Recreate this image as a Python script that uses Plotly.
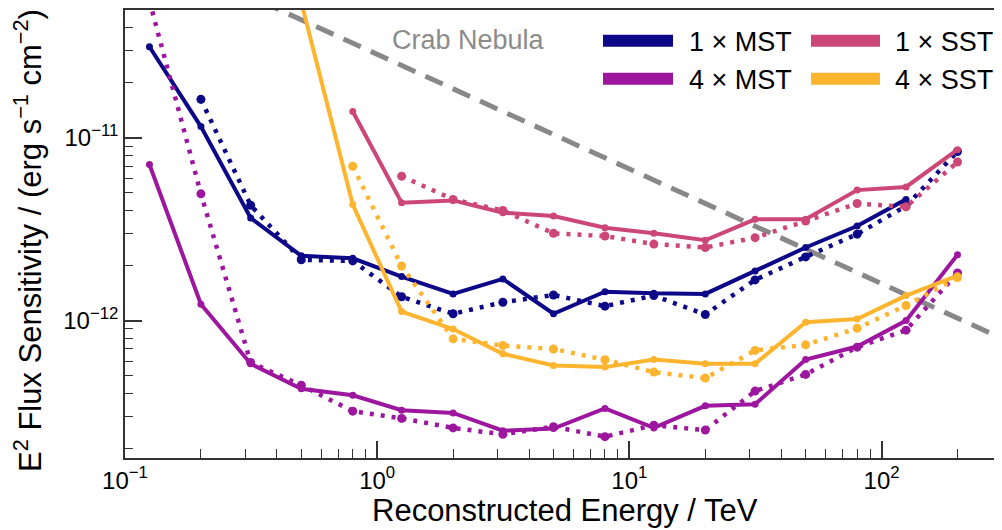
import plotly.graph_objects as go

# ---------------- data ----------------
energy = [0.125, 0.2, 0.315, 0.5, 0.8, 1.25, 2.0, 3.15, 5.0, 8.0, 12.5, 20.0,
          31.5, 50.0, 80.0, 125.0, 200.0]

mst1_solid = [3.14e-11, 1.15e-11, 3.64e-12, 2.26e-12, 2.19e-12, 1.74e-12, 1.40e-12,
              1.69e-12, 1.09e-12, 1.44e-12, 1.41e-12, 1.40e-12, 1.87e-12, 2.51e-12,
              3.29e-12, 4.60e-12, None]
mst1_dotted = [None, 1.62e-11, 4.27e-12, 2.15e-12, 2.12e-12, 1.35e-12, 1.09e-12,
               1.26e-12, 1.38e-12, 1.20e-12, 1.37e-12, 1.08e-12, 1.67e-12, 2.23e-12,
               2.97e-12, 4.23e-12, 8.4e-12]

mst4_solid = [7.13e-12, 1.23e-12, 5.81e-13, 4.24e-13, 3.91e-13, 3.24e-13, 3.13e-13,
              2.50e-13, 2.57e-13, 3.31e-13, 2.59e-13, 3.42e-13, 3.49e-13, 6.13e-13,
              7.22e-13, 1.00e-12, 2.29e-12]
mst4_dotted = [5.6e-11, 4.93e-12, 5.90e-13, 4.43e-13, 3.20e-13, 2.92e-13, 2.59e-13,
               2.39e-13, 2.63e-13, 2.32e-13, 2.68e-13, 2.52e-13, 4.12e-13, 5.08e-13,
               7.16e-13, 8.87e-13, 1.82e-12]

sst1_solid = [None, None, None, None, 1.39e-11, 4.41e-12, 4.54e-12, 3.89e-12,
              3.73e-12, 3.22e-12, 3.00e-12, 2.75e-12, 3.58e-12, 3.58e-12, 5.17e-12,
              5.38e-12, 8.6e-12]
sst1_dotted = [None, None, None, None, None, 6.16e-12, 4.60e-12, 4.00e-12, 3.00e-12,
               2.90e-12, 2.62e-12, 2.51e-12, 2.84e-12, 3.50e-12, 4.37e-12, 4.19e-12,
               7.36e-12]

sst4_solid = [None, None, None, 5.5e-11, 4.31e-12, 1.12e-12, 9.00e-13, 6.59e-13,
              5.69e-13, 5.57e-13, 6.13e-13, 5.81e-13, 5.81e-13, 9.79e-13, 1.02e-12,
              1.37e-12, 1.76e-12]
sst4_dotted = [None, None, None, None, 6.98e-12, 1.99e-12, 7.95e-13, 7.31e-13,
               7.00e-13, 6.11e-13, 5.23e-13, 4.85e-13, 6.87e-13, 7.37e-13, 9.08e-13,
               1.21e-12, 1.72e-12]

crab_energy = [0.1, 300.0]
crab_flux = [1.21e-10, 8.0e-13]

series_names = ["1 × MST", "4 × MST", "1 × SST", "4 × SST"]
series_colors = ["#0d0887", "#9c179e", "#cc4778", "#fdb42f"]
solid_data = [mst1_solid, mst4_solid, sst1_solid, sst4_solid]
dotted_data = [mst1_dotted, mst4_dotted, sst1_dotted, sst4_dotted]

x_tickvals = [0.1, 1, 10, 100]
x_ticktext = ["10<sup>−1</sup>", "10<sup>0</sup>", "10<sup>1</sup>", "10<sup>2</sup>"]
y_tickvals = [1e-12, 1e-11]
y_ticktext = ["10<sup>−12</sup>", "10<sup>−11</sup>"]

# ---------------- figure ----------------
# The page has the browser's default 8px body margin, so the figure is
# sized to fill the rest of the 1002x530 window exactly.
FONT = "Liberation Sans, Arial, Helvetica, sans-serif"
OFF = 8
W, H = 1002 - OFF, 530 - OFF
L, R, T, B = 125 - OFF, 0, 0, 72
PW, PH = W - L - R, H - T - B


def px(xp):
    """page x pixel -> paper x"""
    return (xp - OFF - L) / PW


def py(yp):
    """page y pixel -> paper y"""
    return (H - B - (yp - OFF)) / PH


fig = go.Figure()

fig.add_trace(go.Scatter(x=crab_energy, y=crab_flux, mode="lines",
                         line=dict(color="#888888", width=5, dash="19px,11px"),
                         showlegend=False, hoverinfo="skip"))

for name, col, sd, dd in zip(series_names, series_colors, solid_data, dotted_data):
    fig.add_trace(go.Scatter(x=energy, y=dd, mode="lines+markers", name=name + " dotted",
                             line=dict(color=col, width=4.5, dash="4px,7px"),
                             marker=dict(color=col, size=9),
                             showlegend=False))
    fig.add_trace(go.Scatter(x=energy, y=sd, mode="lines+markers", name=name,
                             line=dict(color=col, width=4),
                             marker=dict(color=col, size=7),
                             showlegend=False))

minor_x = [m * 10.0 ** e for e in range(-1, 3) for m in range(2, 10)]
minor_y = [m * 10.0 ** e for e in range(-13, -10) for m in range(2, 10)]

fig.update_xaxes(type="log", range=[-1, 2.4775],
                 tickmode="array", tickvals=x_tickvals, ticktext=x_ticktext,
                 ticks="inside", ticklen=17, tickwidth=1.5, tickcolor="#333333",
                 showline=True, linecolor="#333333", linewidth=1.5, mirror=True,
                 showgrid=False, zeroline=False,
                 tickfont=dict(family=FONT, size=24, color="#000000"),
                 minor=dict(tickmode="array", tickvals=minor_x, ticks="inside",
                            ticklen=9, tickwidth=1.2, tickcolor="#333333", showgrid=False))
fig.update_yaxes(type="log", range=[-12.751, -10.302],
                 tickmode="array", tickvals=y_tickvals, ticktext=y_ticktext,
                 ticks="inside", ticklen=17, tickwidth=1.5, tickcolor="#333333",
                 showline=True, linecolor="#333333", linewidth=1.5, mirror=False,
                 showgrid=False, zeroline=False,
                 tickfont=dict(family=FONT, size=24, color="#000000"),
                 minor=dict(tickmode="array", tickvals=minor_y, ticks="inside",
                            ticklen=8, tickwidth=1.2, tickcolor="#333333", showgrid=False))

annotations = [
    dict(text="Reconstructed Energy / TeV", x=px(565), y=py(511), xref="paper", yref="paper",
         xanchor="center", yanchor="middle", showarrow=False,
         font=dict(family=FONT, size=31, color="#000000")),
    dict(text="E<sup>2</sup> Flux Sensitivity / (erg s<sup>−1</sup> cm<sup>−2</sup>)",
         x=px(28), y=py(240), xref="paper", yref="paper", textangle=-90,
         xanchor="center", yanchor="middle", showarrow=False,
         font=dict(family=FONT, size=31, color="#000000")),
    dict(text="Crab Nebula", x=px(468), y=py(38), xref="paper", yref="paper",
         xanchor="center", yanchor="middle", showarrow=False,
         font=dict(family=FONT, size=27, color="#8c8c8c")),
]

shapes = []
leg_pos = [(603, 673, 687, 39), (603, 673, 687, 77), (811, 880, 893, 39), (811, 880, 893, 77)]
for name, col, (x0, x1, xt, yy) in zip(series_names, series_colors, leg_pos):
    shapes.append(dict(type="line", xref="paper", yref="paper",
                       x0=px(x0), x1=px(x1), y0=py(yy), y1=py(yy),
                       line=dict(color=col, width=12)))
    annotations.append(dict(text=name, x=px(xt), y=py(yy + 1), xref="paper", yref="paper",
                            xanchor="left", yanchor="middle", showarrow=False,
                            font=dict(family=FONT, size=27, color="#000000")))

fig.update_layout(width=W, height=H, margin=dict(l=L, r=R, t=T, b=B, pad=0),
                  paper_bgcolor="white", plot_bgcolor="white",
                  showlegend=False, annotations=annotations, shapes=shapes,
                  font=dict(family=FONT))

fig.write_html("out.html")
